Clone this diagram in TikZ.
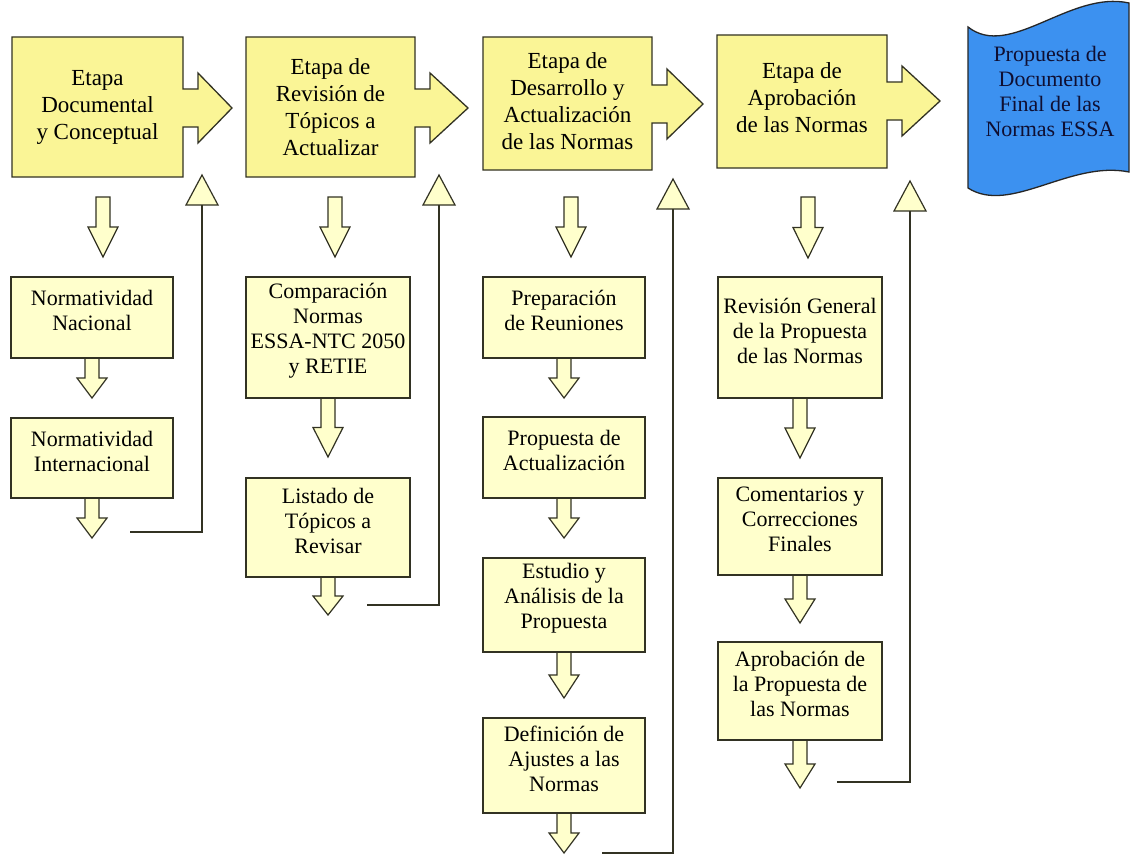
\documentclass[tikz,border=0pt]{standalone}
\usepackage{fontspec}
\setmainfont{Liberation Serif}
\definecolor{topy}{RGB}{250,245,150}
\definecolor{suby}{RGB}{255,255,204}
\definecolor{edgec}{RGB}{50,50,35}
\definecolor{docblue}{RGB}{60,145,240}
\definecolor{doctext}{RGB}{15,15,50}
\newcommand\calloutshape[6]{% L T R B tipx tipy
  \draw[topshape] (#1,#2) -- (#3,#2) -- (#3,#6-19) -- (#3+15,#6-19) -- (#3+15,#6-35) -- (#5,#6)
    -- (#3+15,#6+35) -- (#3+15,#6+19) -- (#3,#6+19) -- (#3,#4) -- (#1,#4) -- cycle;}
\newcommand\darrow[3]{% cx ytop ytip
  \pgfmathsetmacro\ymidval{#2+0.5*(#3-#2)}
  \draw[arrowshape] (#1-7,#2) -- (#1+7,#2) -- (#1+7,\ymidval) -- (#1+15,\ymidval) -- (#1,#3)
    -- (#1-15,\ymidval) -- (#1-7,\ymidval) -- cycle;}
\newcommand\subbox[6]{% name cx cy w h text
  \node[subboxstyle, minimum width=#4pt, minimum height=#5pt] (#1) at (#2,#3) {};
  \node[subtxt] (#1t) at (#2,#3-7) {#6};}
\newcommand\uptri[3]{% name x apexy
  \draw[arrowshape] (#2,#3) -- (#2+16,#3+30) -- (#2-16,#3+30) -- cycle;
  \coordinate (#1) at (#2,#3+30);}
\begin{document}
\begin{tikzpicture}[x=1pt,y=-1pt,
  topshape/.style={draw=edgec, line width=1.3pt, fill=topy, line join=miter},
  arrowshape/.style={draw=edgec, line width=1.2pt, fill=suby, line join=miter},
  subboxstyle/.style={draw=edgec, line width=1.3pt, fill=suby, inner sep=0pt},
  toptxt/.style={align=center, font=\fontsize{23}{27}\selectfont, inner sep=0pt},
  subtxt/.style={align=center, font=\fontsize{22}{25}\selectfont, inner sep=0pt},
  link/.style={draw=edgec, line width=1.3pt},
  docshape/.style={draw=black!85, line width=1.3pt, fill=docblue}]
\useasboundingbox (0,0) rectangle (1131,856);
\fill[white] (0,0) rectangle (1131,856);

% top row callouts
\calloutshape{12}{37}{183}{177}{232}{108}
\node[toptxt] (t1) at (97.5,107) {Etapa\\Documental\\y Conceptual};
\calloutshape{246}{37}{415}{177}{468}{108}
\node[toptxt] (t2) at (330.5,107) {Etapa de\\Revisión de\\Tópicos a\\Actualizar};
\calloutshape{483}{37}{652}{170}{703}{104}
\node[toptxt] (t3) at (567.5,101) {Etapa de\\Desarrollo y\\Actualización\\de las Normas};
\calloutshape{717}{35}{887}{168}{940}{101}
\node[toptxt] (t4) at (802,98) {Etapa de\\Aprobación\\de las Normas};

% final document
\draw[docshape] (968,27) .. controls (1010,60) and (1070,-10) .. (1129,3) -- (1129,172)
  .. controls (1070,160) and (1010,215) .. (968,188) -- cycle;
\node[toptxt, text=doctext, font=\fontsize{22}{25}\selectfont] (doc) at (1050,91)
  {Propuesta de\\Documento\\Final de las\\Normas ESSA};

% standalone down arrows under the stages
\darrow{103}{197}{257}
\darrow{335}{197}{257}
\darrow{571}{197}{257}
\darrow{808}{197}{258}

% arrows leaving the sub boxes
\darrow{92}{358}{398}
\darrow{92}{498}{538}
\darrow{328}{398}{457}
\darrow{328}{577}{615}
\darrow{564}{358}{398}
\darrow{564}{498}{538}
\darrow{564}{652}{698}
\darrow{564}{813}{853}
\darrow{800}{398}{458}
\darrow{800}{575}{623}
\darrow{800}{740}{788}

% sub boxes
\subbox{b11}{92}{317.5}{162}{81}{Normatividad\\Nacional}
\subbox{b12}{92}{458}{162}{80}{Normatividad\\Internacional}
\subbox{b21}{328}{337.5}{164}{121}{Comparación\\Normas\\ESSA-NTC 2050\\y RETIE}
\subbox{b22}{328}{527.5}{164}{99}{Listado de\\Tópicos a\\Revisar}
\subbox{b31}{564}{317.5}{162}{81}{Preparación\\de Reuniones}
\subbox{b32}{564}{457.5}{162}{81}{Propuesta de\\Actualización}
\subbox{b33}{564}{605}{162}{94}{Estudio y\\Análisis de la\\Propuesta}
\subbox{b34}{564}{765.5}{162}{95}{Definición de\\Ajustes a las\\Normas}
\subbox{b41}{800}{337.5}{164}{121}{Revisión General\\de la Propuesta\\de las Normas}
\subbox{b42}{800}{526.5}{164}{97}{Comentarios y\\Correcciones\\Finales}
\subbox{b43}{800}{691}{164}{98}{Aprobación de\\la Propuesta de\\las Normas}

% return arrowheads and feedback lines
\uptri{u1}{202}{175}
\uptri{u2}{439}{175}
\uptri{u3}{673}{179}
\uptri{u4}{910}{181}
\coordinate (e1) at (130,532);
\coordinate (e2) at (367,605);
\coordinate (e3) at (602,853);
\coordinate (e4) at (837,782);
\draw[link] (e1) -| (u1);
\draw[link] (e2) -| (u2);
\draw[link] (e3) -| (u3);
\draw[link] (e4) -| (u4);
\end{tikzpicture}
\end{document}
